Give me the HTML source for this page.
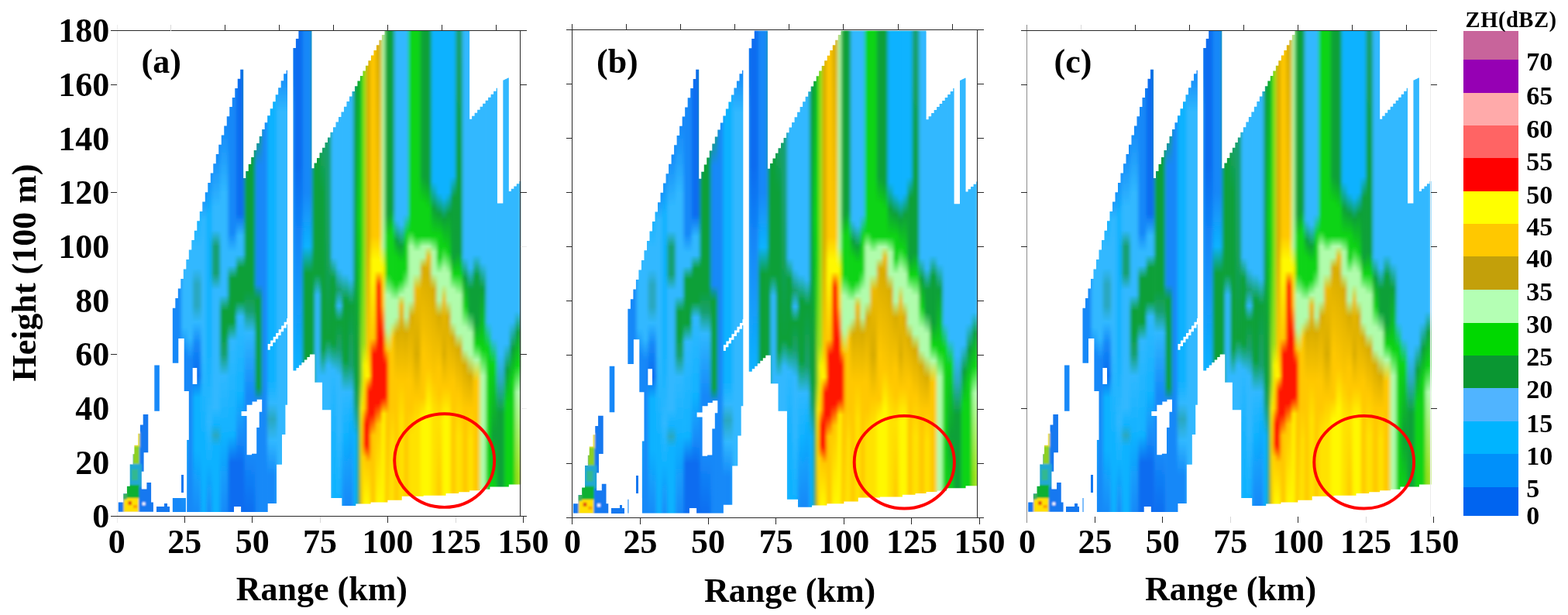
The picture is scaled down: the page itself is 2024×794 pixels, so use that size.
<!DOCTYPE html><html><head><meta charset="utf-8"><title>Radar RHI ZH</title>
<style>html,body{margin:0;padding:0;background:#fff}svg{display:block}text{font-family:"Liberation Serif",serif;font-weight:bold;fill:#000}</style></head><body>
<svg width="2024" height="794" viewBox="0 0 2024 794">
<rect width="100%" height="100%" fill="#fff"/>
<defs><linearGradient id="g0" gradientUnits="userSpaceOnUse" x1="0" y1="39.5" x2="0" y2="666.6"><stop offset="0.6667" stop-color="#1488F8"/><stop offset="1.0000" stop-color="#1488F8"/></linearGradient><linearGradient id="g1" gradientUnits="userSpaceOnUse" x1="0" y1="39.5" x2="0" y2="666.6"><stop offset="0.5000" stop-color="#1488F8"/><stop offset="1.0000" stop-color="#1488F8"/></linearGradient><linearGradient id="g2" gradientUnits="userSpaceOnUse" x1="0" y1="39.5" x2="0" y2="666.6"><stop offset="0.4722" stop-color="#30B8FF"/><stop offset="0.6111" stop-color="#30B8FF"/><stop offset="0.6667" stop-color="#1488F8"/><stop offset="0.7778" stop-color="#1488F8"/><stop offset="0.8333" stop-color="#10B2FF"/><stop offset="1.0000" stop-color="#1488F8"/></linearGradient><linearGradient id="g3" gradientUnits="userSpaceOnUse" x1="0" y1="39.5" x2="0" y2="666.6"><stop offset="0.4167" stop-color="#30B8FF"/><stop offset="0.6333" stop-color="#30B8FF"/><stop offset="0.6778" stop-color="#1488F8"/><stop offset="0.7333" stop-color="#1488F8"/><stop offset="0.7778" stop-color="#1488F8"/><stop offset="1.0000" stop-color="#1488F8"/></linearGradient><linearGradient id="g4" gradientUnits="userSpaceOnUse" x1="0" y1="39.5" x2="0" y2="666.6"><stop offset="0.3611" stop-color="#10B2FF"/><stop offset="0.4444" stop-color="#30B8FF"/><stop offset="0.4889" stop-color="#30B8FF"/><stop offset="0.5222" stop-color="#2AA8C0"/><stop offset="0.5667" stop-color="#2AA8C0"/><stop offset="0.6000" stop-color="#30B8FF"/><stop offset="0.6444" stop-color="#1488F8"/><stop offset="0.7111" stop-color="#0A6CF0"/><stop offset="0.7556" stop-color="#10B2FF"/><stop offset="0.8611" stop-color="#10B2FF"/><stop offset="1.0000" stop-color="#1488F8"/></linearGradient><linearGradient id="g5" gradientUnits="userSpaceOnUse" x1="0" y1="39.5" x2="0" y2="666.6"><stop offset="0.3333" stop-color="#1488F8"/><stop offset="0.3889" stop-color="#30B8FF"/><stop offset="0.6667" stop-color="#30B8FF"/><stop offset="0.8333" stop-color="#10B2FF"/><stop offset="1.0000" stop-color="#10B2FF"/></linearGradient><linearGradient id="g6" gradientUnits="userSpaceOnUse" x1="0" y1="39.5" x2="0" y2="666.6"><stop offset="0.2889" stop-color="#1488F8"/><stop offset="0.3778" stop-color="#10B2FF"/><stop offset="0.6667" stop-color="#10B2FF"/><stop offset="0.8056" stop-color="#30B8FF"/><stop offset="0.8889" stop-color="#10B2FF"/><stop offset="1.0000" stop-color="#1488F8"/></linearGradient><linearGradient id="g7" gradientUnits="userSpaceOnUse" x1="0" y1="39.5" x2="0" y2="666.6"><stop offset="0.2500" stop-color="#1488F8"/><stop offset="0.3611" stop-color="#30B8FF"/><stop offset="0.4111" stop-color="#30B8FF"/><stop offset="0.4444" stop-color="#18A070"/><stop offset="0.5000" stop-color="#18A070"/><stop offset="0.5333" stop-color="#30B8FF"/><stop offset="0.7778" stop-color="#30B8FF"/><stop offset="0.8111" stop-color="#10B2FF"/><stop offset="0.8333" stop-color="#2AA8C0"/><stop offset="0.8556" stop-color="#10B2FF"/><stop offset="1.0000" stop-color="#10B2FF"/></linearGradient><linearGradient id="g8" gradientUnits="userSpaceOnUse" x1="0" y1="39.5" x2="0" y2="666.6"><stop offset="0.1944" stop-color="#1488F8"/><stop offset="0.3333" stop-color="#30B8FF"/><stop offset="0.5444" stop-color="#30B8FF"/><stop offset="0.5778" stop-color="#0CA038"/><stop offset="0.6222" stop-color="#0CA038"/><stop offset="0.6667" stop-color="#18A070"/><stop offset="0.7111" stop-color="#30B8FF"/><stop offset="0.8333" stop-color="#10B2FF"/><stop offset="1.0000" stop-color="#1488F8"/></linearGradient><linearGradient id="g9" gradientUnits="userSpaceOnUse" x1="0" y1="39.5" x2="0" y2="666.6"><stop offset="0.1389" stop-color="#1488F8"/><stop offset="0.3056" stop-color="#1488F8"/><stop offset="0.4167" stop-color="#1488F8"/><stop offset="0.4556" stop-color="#30B8FF"/><stop offset="0.4833" stop-color="#30B8FF"/><stop offset="0.5111" stop-color="#0CA038"/><stop offset="0.6000" stop-color="#0CA038"/><stop offset="0.6389" stop-color="#30B8FF"/><stop offset="0.8333" stop-color="#10B2FF"/><stop offset="0.8889" stop-color="#0A6CF0"/><stop offset="1.0000" stop-color="#0A6CF0"/></linearGradient><linearGradient id="g10" gradientUnits="userSpaceOnUse" x1="0" y1="39.5" x2="0" y2="666.6"><stop offset="0.0778" stop-color="#0A6CF0"/><stop offset="0.3778" stop-color="#0A6CF0"/><stop offset="0.4222" stop-color="#30B8FF"/><stop offset="0.4611" stop-color="#30B8FF"/><stop offset="0.4889" stop-color="#0CA038"/><stop offset="0.5556" stop-color="#0CA038"/><stop offset="0.5889" stop-color="#30B8FF"/><stop offset="0.7500" stop-color="#10B2FF"/><stop offset="0.8444" stop-color="#1488F8"/><stop offset="0.8889" stop-color="#0A6CF0"/><stop offset="1.0000" stop-color="#0A6CF0"/></linearGradient><linearGradient id="g11" gradientUnits="userSpaceOnUse" x1="0" y1="39.5" x2="0" y2="666.6"><stop offset="0.2500" stop-color="#0CA038"/><stop offset="0.5333" stop-color="#0CA038"/><stop offset="0.5778" stop-color="#18A070"/><stop offset="0.6222" stop-color="#30B8FF"/><stop offset="0.7500" stop-color="#1488F8"/><stop offset="0.8778" stop-color="#1488F8"/><stop offset="1.0000" stop-color="#0A6CF0"/></linearGradient><linearGradient id="g12" gradientUnits="userSpaceOnUse" x1="0" y1="39.5" x2="0" y2="666.6"><stop offset="0.2056" stop-color="#18A070"/><stop offset="0.2778" stop-color="#1488F8"/><stop offset="0.5222" stop-color="#1488F8"/><stop offset="0.5556" stop-color="#0CA038"/><stop offset="0.7333" stop-color="#0CA038"/><stop offset="0.7611" stop-color="#1488F8"/><stop offset="1.0000" stop-color="#1488F8"/></linearGradient><linearGradient id="g13" gradientUnits="userSpaceOnUse" x1="0" y1="39.5" x2="0" y2="666.6"><stop offset="0.1833" stop-color="#1488F8"/><stop offset="0.6667" stop-color="#1488F8"/><stop offset="1.0000" stop-color="#1488F8"/></linearGradient><linearGradient id="g14" gradientUnits="userSpaceOnUse" x1="0" y1="39.5" x2="0" y2="666.6"><stop offset="0.1333" stop-color="#10B2FF"/><stop offset="0.7222" stop-color="#10B2FF"/><stop offset="0.7667" stop-color="#30B8FF"/><stop offset="0.8000" stop-color="#2AA8C0"/><stop offset="0.8444" stop-color="#30B8FF"/><stop offset="0.9167" stop-color="#1488F8"/><stop offset="1.0000" stop-color="#1488F8"/></linearGradient><linearGradient id="g15" gradientUnits="userSpaceOnUse" x1="0" y1="39.5" x2="0" y2="666.6"><stop offset="0.0833" stop-color="#1488F8"/><stop offset="0.1667" stop-color="#30B8FF"/><stop offset="0.7778" stop-color="#30B8FF"/><stop offset="1.0000" stop-color="#30B8FF"/></linearGradient><linearGradient id="g16" gradientUnits="userSpaceOnUse" x1="0" y1="39.5" x2="0" y2="666.6"><stop offset="0.0000" stop-color="#0A6CF0"/><stop offset="0.2778" stop-color="#0A6CF0"/><stop offset="0.4444" stop-color="#1488F8"/><stop offset="0.7000" stop-color="#10B2FF"/><stop offset="1.0000" stop-color="#10B2FF"/></linearGradient><linearGradient id="g17" gradientUnits="userSpaceOnUse" x1="0" y1="39.5" x2="0" y2="666.6"><stop offset="0.0000" stop-color="#1488F8"/><stop offset="0.3333" stop-color="#1488F8"/><stop offset="0.4444" stop-color="#10B2FF"/><stop offset="0.5000" stop-color="#0CA038"/><stop offset="0.6778" stop-color="#0CA038"/><stop offset="1.0000" stop-color="#0CA038"/></linearGradient><linearGradient id="g18" gradientUnits="userSpaceOnUse" x1="0" y1="39.5" x2="0" y2="666.6"><stop offset="0.2722" stop-color="#0CA038"/><stop offset="0.6667" stop-color="#0CA038"/><stop offset="1.0000" stop-color="#0CA038"/></linearGradient><linearGradient id="g19" gradientUnits="userSpaceOnUse" x1="0" y1="39.5" x2="0" y2="666.6"><stop offset="0.2556" stop-color="#0CA038"/><stop offset="0.5000" stop-color="#0CA038"/><stop offset="0.5444" stop-color="#30B8FF"/><stop offset="0.7222" stop-color="#30B8FF"/><stop offset="1.0000" stop-color="#30B8FF"/></linearGradient><linearGradient id="g20" gradientUnits="userSpaceOnUse" x1="0" y1="39.5" x2="0" y2="666.6"><stop offset="0.2167" stop-color="#18A070"/><stop offset="0.3333" stop-color="#0CA038"/><stop offset="0.6556" stop-color="#0CA038"/><stop offset="0.7111" stop-color="#30B8FF"/><stop offset="0.7833" stop-color="#30B8FF"/><stop offset="1.0000" stop-color="#30B8FF"/></linearGradient><linearGradient id="g21" gradientUnits="userSpaceOnUse" x1="0" y1="39.5" x2="0" y2="666.6"><stop offset="0.2167" stop-color="#18A070"/><stop offset="0.3333" stop-color="#18A070"/><stop offset="0.6333" stop-color="#0CA038"/><stop offset="0.6889" stop-color="#30B8FF"/><stop offset="0.7833" stop-color="#30B8FF"/><stop offset="1.0000" stop-color="#30B8FF"/></linearGradient><linearGradient id="g22" gradientUnits="userSpaceOnUse" x1="0" y1="39.5" x2="0" y2="666.6"><stop offset="0.1667" stop-color="#30B8FF"/><stop offset="0.4667" stop-color="#30B8FF"/><stop offset="0.5111" stop-color="#0CA038"/><stop offset="0.6444" stop-color="#0CA038"/><stop offset="0.7000" stop-color="#30B8FF"/><stop offset="0.8333" stop-color="#10B2FF"/><stop offset="0.9611" stop-color="#10B2FF"/><stop offset="1.0000" stop-color="#10B2FF"/></linearGradient><linearGradient id="g23" gradientUnits="userSpaceOnUse" x1="0" y1="39.5" x2="0" y2="666.6"><stop offset="0.1667" stop-color="#30B8FF"/><stop offset="0.4889" stop-color="#30B8FF"/><stop offset="0.5333" stop-color="#18A070"/><stop offset="0.5667" stop-color="#30B8FF"/><stop offset="0.6000" stop-color="#0CA038"/><stop offset="0.6556" stop-color="#18A070"/><stop offset="0.7111" stop-color="#30B8FF"/><stop offset="0.8333" stop-color="#30B8FF"/><stop offset="0.9611" stop-color="#10B2FF"/><stop offset="1.0000" stop-color="#10B2FF"/></linearGradient><linearGradient id="g24" gradientUnits="userSpaceOnUse" x1="0" y1="39.5" x2="0" y2="666.6"><stop offset="0.1222" stop-color="#30B8FF"/><stop offset="0.5000" stop-color="#30B8FF"/><stop offset="0.5556" stop-color="#0CA038"/><stop offset="0.6778" stop-color="#0CA038"/><stop offset="0.7444" stop-color="#30B8FF"/><stop offset="0.8333" stop-color="#10B2FF"/><stop offset="0.9778" stop-color="#1488F8"/><stop offset="1.0000" stop-color="#1488F8"/></linearGradient><linearGradient id="g25" gradientUnits="userSpaceOnUse" x1="0" y1="39.5" x2="0" y2="666.6"><stop offset="0.1222" stop-color="#30B8FF"/><stop offset="0.5111" stop-color="#30B8FF"/><stop offset="0.5667" stop-color="#0CA038"/><stop offset="0.6889" stop-color="#18A070"/><stop offset="0.7444" stop-color="#30B8FF"/><stop offset="0.8056" stop-color="#10B2FF"/><stop offset="0.9778" stop-color="#1488F8"/><stop offset="1.0000" stop-color="#1488F8"/></linearGradient><linearGradient id="g26" gradientUnits="userSpaceOnUse" x1="0" y1="39.5" x2="0" y2="666.6"><stop offset="0.1000" stop-color="#0CA038"/><stop offset="0.7222" stop-color="#0CA038"/><stop offset="0.7667" stop-color="#18A070"/><stop offset="0.8333" stop-color="#10B2FF"/><stop offset="0.9778" stop-color="#10B2FF"/><stop offset="1.0000" stop-color="#10B2FF"/></linearGradient><linearGradient id="g27" gradientUnits="userSpaceOnUse" x1="0" y1="39.5" x2="0" y2="666.6"><stop offset="0.0833" stop-color="#0CA038"/><stop offset="0.3889" stop-color="#0CD414"/><stop offset="0.6667" stop-color="#0CA038"/><stop offset="0.9722" stop-color="#0CA038"/><stop offset="1.0000" stop-color="#0CA038"/></linearGradient><linearGradient id="g28" gradientUnits="userSpaceOnUse" x1="0" y1="39.5" x2="0" y2="666.6"><stop offset="0.0667" stop-color="#0CD414"/><stop offset="0.3333" stop-color="#0CD414"/><stop offset="0.4444" stop-color="#0CD414"/><stop offset="0.6667" stop-color="#9AE01A"/><stop offset="0.7222" stop-color="#9AE01A"/><stop offset="0.7778" stop-color="#FFF800"/><stop offset="0.9722" stop-color="#FFC800"/><stop offset="1.0000" stop-color="#FFC800"/></linearGradient><linearGradient id="g29" gradientUnits="userSpaceOnUse" x1="0" y1="39.5" x2="0" y2="666.6"><stop offset="0.0667" stop-color="#9AE01A"/><stop offset="0.3333" stop-color="#9AE01A"/><stop offset="0.4444" stop-color="#9AE01A"/><stop offset="0.6444" stop-color="#9AE01A"/><stop offset="0.6889" stop-color="#FFF800"/><stop offset="0.7778" stop-color="#FFC800"/><stop offset="0.8111" stop-color="#FF1800"/><stop offset="0.8500" stop-color="#FF1800"/><stop offset="0.8778" stop-color="#FFC800"/><stop offset="0.9722" stop-color="#FFF800"/><stop offset="1.0000" stop-color="#FFF800"/></linearGradient><linearGradient id="g30" gradientUnits="userSpaceOnUse" x1="0" y1="39.5" x2="0" y2="666.6"><stop offset="0.0556" stop-color="#D8AC06"/><stop offset="0.4444" stop-color="#D8AC06"/><stop offset="0.6556" stop-color="#FFC800"/><stop offset="0.7111" stop-color="#FFF800"/><stop offset="0.7444" stop-color="#FF1800"/><stop offset="0.8556" stop-color="#FF1800"/><stop offset="0.8889" stop-color="#FFC800"/><stop offset="0.9722" stop-color="#FFF800"/><stop offset="1.0000" stop-color="#FFF800"/></linearGradient><linearGradient id="g31" gradientUnits="userSpaceOnUse" x1="0" y1="39.5" x2="0" y2="666.6"><stop offset="0.0333" stop-color="#FFC800"/><stop offset="0.4222" stop-color="#FFC800"/><stop offset="0.4722" stop-color="#FFF800"/><stop offset="0.5111" stop-color="#FFF800"/><stop offset="0.6333" stop-color="#FFC800"/><stop offset="0.6667" stop-color="#FF1800"/><stop offset="0.7889" stop-color="#FF1800"/><stop offset="0.8333" stop-color="#FFC800"/><stop offset="0.9722" stop-color="#FFC800"/><stop offset="1.0000" stop-color="#FFC800"/></linearGradient><linearGradient id="g32" gradientUnits="userSpaceOnUse" x1="0" y1="39.5" x2="0" y2="666.6"><stop offset="0.0111" stop-color="#D8AC06"/><stop offset="0.4222" stop-color="#FFC800"/><stop offset="0.4722" stop-color="#FFF800"/><stop offset="0.4944" stop-color="#FFF800"/><stop offset="0.5278" stop-color="#FF1800"/><stop offset="0.7667" stop-color="#FF1800"/><stop offset="0.8111" stop-color="#FFC800"/><stop offset="0.9722" stop-color="#FFF800"/><stop offset="1.0000" stop-color="#FFF800"/></linearGradient><linearGradient id="g33" gradientUnits="userSpaceOnUse" x1="0" y1="39.5" x2="0" y2="666.6"><stop offset="0.0000" stop-color="#B0FCAC"/><stop offset="0.4444" stop-color="#B0FCAC"/><stop offset="0.4889" stop-color="#FFF800"/><stop offset="0.5667" stop-color="#FFC800"/><stop offset="0.6333" stop-color="#FF1800"/><stop offset="0.7556" stop-color="#FF1800"/><stop offset="0.7889" stop-color="#FFF800"/><stop offset="0.9722" stop-color="#FFF800"/><stop offset="1.0000" stop-color="#FFF800"/></linearGradient><linearGradient id="g34" gradientUnits="userSpaceOnUse" x1="0" y1="39.5" x2="0" y2="666.6"><stop offset="0.0000" stop-color="#0CA038"/><stop offset="0.3778" stop-color="#0CA038"/><stop offset="0.4222" stop-color="#0CD414"/><stop offset="0.5000" stop-color="#0CD414"/><stop offset="0.5444" stop-color="#B0FCAC"/><stop offset="0.6111" stop-color="#B0FCAC"/><stop offset="0.6556" stop-color="#FFC800"/><stop offset="0.6889" stop-color="#FF1800"/><stop offset="0.7500" stop-color="#FF1800"/><stop offset="0.7889" stop-color="#FFC800"/><stop offset="0.9722" stop-color="#FFC800"/><stop offset="1.0000" stop-color="#FFC800"/></linearGradient><linearGradient id="g35" gradientUnits="userSpaceOnUse" x1="0" y1="39.5" x2="0" y2="666.6"><stop offset="0.0000" stop-color="#0CA038"/><stop offset="0.3778" stop-color="#0CA038"/><stop offset="0.4222" stop-color="#0CD414"/><stop offset="0.5000" stop-color="#0CD414"/><stop offset="0.5444" stop-color="#B0FCAC"/><stop offset="0.6222" stop-color="#B0FCAC"/><stop offset="0.6667" stop-color="#FFC800"/><stop offset="0.8333" stop-color="#FFC800"/><stop offset="0.9722" stop-color="#FFE200"/><stop offset="1.0000" stop-color="#FFE200"/></linearGradient><linearGradient id="g36" gradientUnits="userSpaceOnUse" x1="0" y1="39.5" x2="0" y2="666.6"><stop offset="0.0000" stop-color="#0CA038"/><stop offset="0.3667" stop-color="#0CA038"/><stop offset="0.4111" stop-color="#0CD414"/><stop offset="0.5111" stop-color="#0CD414"/><stop offset="0.5556" stop-color="#B0FCAC"/><stop offset="0.6000" stop-color="#B0FCAC"/><stop offset="0.6333" stop-color="#FFC800"/><stop offset="0.7778" stop-color="#FFC800"/><stop offset="0.8444" stop-color="#FFE200"/><stop offset="0.9722" stop-color="#FFE200"/><stop offset="1.0000" stop-color="#FFE200"/></linearGradient><linearGradient id="g37" gradientUnits="userSpaceOnUse" x1="0" y1="39.5" x2="0" y2="666.6"><stop offset="0.0000" stop-color="#30B8FF"/><stop offset="0.3889" stop-color="#30B8FF"/><stop offset="0.4333" stop-color="#0CA038"/><stop offset="0.4667" stop-color="#0CD414"/><stop offset="0.5222" stop-color="#0CD414"/><stop offset="0.5556" stop-color="#B0FCAC"/><stop offset="0.5889" stop-color="#B0FCAC"/><stop offset="0.6222" stop-color="#D8AC06"/><stop offset="0.7222" stop-color="#FFC800"/><stop offset="0.8333" stop-color="#FFC800"/><stop offset="0.9722" stop-color="#FFC800"/><stop offset="1.0000" stop-color="#FFC800"/></linearGradient><linearGradient id="g38" gradientUnits="userSpaceOnUse" x1="0" y1="39.5" x2="0" y2="666.6"><stop offset="0.0000" stop-color="#30B8FF"/><stop offset="0.4000" stop-color="#30B8FF"/><stop offset="0.4444" stop-color="#0CA038"/><stop offset="0.4778" stop-color="#0CD414"/><stop offset="0.5111" stop-color="#0CD414"/><stop offset="0.5444" stop-color="#B0FCAC"/><stop offset="0.5667" stop-color="#ECBA04"/><stop offset="0.6111" stop-color="#D8AC06"/><stop offset="0.7222" stop-color="#FFC800"/><stop offset="0.8000" stop-color="#FFE200"/><stop offset="0.9722" stop-color="#FFE200"/><stop offset="1.0000" stop-color="#FFE200"/></linearGradient><linearGradient id="g39" gradientUnits="userSpaceOnUse" x1="0" y1="39.5" x2="0" y2="666.6"><stop offset="0.0000" stop-color="#30B8FF"/><stop offset="0.3778" stop-color="#30B8FF"/><stop offset="0.4222" stop-color="#0CD414"/><stop offset="0.4889" stop-color="#0CD414"/><stop offset="0.5333" stop-color="#B0FCAC"/><stop offset="0.5889" stop-color="#B0FCAC"/><stop offset="0.6222" stop-color="#D8AC06"/><stop offset="0.7222" stop-color="#FFC800"/><stop offset="0.8000" stop-color="#FFC800"/><stop offset="0.9722" stop-color="#FFC800"/><stop offset="1.0000" stop-color="#FFC800"/></linearGradient><linearGradient id="g40" gradientUnits="userSpaceOnUse" x1="0" y1="39.5" x2="0" y2="666.6"><stop offset="0.0000" stop-color="#0CD414"/><stop offset="0.4111" stop-color="#0CD414"/><stop offset="0.4444" stop-color="#B0FCAC"/><stop offset="0.5111" stop-color="#B0FCAC"/><stop offset="0.5556" stop-color="#B0FCAC"/><stop offset="0.5889" stop-color="#D8AC06"/><stop offset="0.7222" stop-color="#FFC800"/><stop offset="0.7778" stop-color="#FFC800"/><stop offset="0.8333" stop-color="#FFE200"/><stop offset="0.9722" stop-color="#FFE200"/><stop offset="1.0000" stop-color="#FFE200"/></linearGradient><linearGradient id="g41" gradientUnits="userSpaceOnUse" x1="0" y1="39.5" x2="0" y2="666.6"><stop offset="0.0000" stop-color="#0CD414"/><stop offset="0.4222" stop-color="#0CD414"/><stop offset="0.4556" stop-color="#B0FCAC"/><stop offset="0.5000" stop-color="#B0FCAC"/><stop offset="0.5333" stop-color="#ECBA04"/><stop offset="0.6667" stop-color="#D8AC06"/><stop offset="0.7556" stop-color="#FFC800"/><stop offset="0.8111" stop-color="#FFE200"/><stop offset="0.9722" stop-color="#FFE200"/><stop offset="1.0000" stop-color="#FFE200"/></linearGradient><linearGradient id="g42" gradientUnits="userSpaceOnUse" x1="0" y1="39.5" x2="0" y2="666.6"><stop offset="0.0000" stop-color="#0CA038"/><stop offset="0.3000" stop-color="#0CA038"/><stop offset="0.3556" stop-color="#0CD414"/><stop offset="0.4222" stop-color="#0CD414"/><stop offset="0.4444" stop-color="#B0FCAC"/><stop offset="0.4667" stop-color="#B0FCAC"/><stop offset="0.4889" stop-color="#D8AC06"/><stop offset="0.6667" stop-color="#FFC800"/><stop offset="0.7556" stop-color="#FFC800"/><stop offset="0.8000" stop-color="#FFF800"/><stop offset="0.9722" stop-color="#FFF800"/><stop offset="1.0000" stop-color="#FFF800"/></linearGradient><linearGradient id="g43" gradientUnits="userSpaceOnUse" x1="0" y1="39.5" x2="0" y2="666.6"><stop offset="0.0000" stop-color="#0CA038"/><stop offset="0.3111" stop-color="#0CA038"/><stop offset="0.3667" stop-color="#0CD414"/><stop offset="0.4222" stop-color="#0CD414"/><stop offset="0.4444" stop-color="#B0FCAC"/><stop offset="0.4667" stop-color="#ECBA04"/><stop offset="0.5000" stop-color="#D8AC06"/><stop offset="0.6944" stop-color="#FFC800"/><stop offset="0.7778" stop-color="#FFF800"/><stop offset="0.9722" stop-color="#FFF800"/><stop offset="1.0000" stop-color="#FFF800"/></linearGradient><linearGradient id="g44" gradientUnits="userSpaceOnUse" x1="0" y1="39.5" x2="0" y2="666.6"><stop offset="0.0000" stop-color="#10B2FF"/><stop offset="0.3111" stop-color="#10B2FF"/><stop offset="0.3667" stop-color="#0CA038"/><stop offset="0.4222" stop-color="#0CD414"/><stop offset="0.4556" stop-color="#B0FCAC"/><stop offset="0.5000" stop-color="#B0FCAC"/><stop offset="0.5333" stop-color="#D8AC06"/><stop offset="0.7222" stop-color="#FFC800"/><stop offset="0.7889" stop-color="#FFE200"/><stop offset="0.9722" stop-color="#FFE200"/><stop offset="1.0000" stop-color="#FFE200"/></linearGradient><linearGradient id="g45" gradientUnits="userSpaceOnUse" x1="0" y1="39.5" x2="0" y2="666.6"><stop offset="0.0000" stop-color="#10B2FF"/><stop offset="0.3333" stop-color="#10B2FF"/><stop offset="0.3778" stop-color="#0CA038"/><stop offset="0.4222" stop-color="#0CD414"/><stop offset="0.4667" stop-color="#0CD414"/><stop offset="0.5000" stop-color="#B0FCAC"/><stop offset="0.5556" stop-color="#B0FCAC"/><stop offset="0.5889" stop-color="#D8AC06"/><stop offset="0.6944" stop-color="#FFC800"/><stop offset="0.7500" stop-color="#FFC800"/><stop offset="0.8056" stop-color="#FFE200"/><stop offset="0.9722" stop-color="#FFC800"/><stop offset="1.0000" stop-color="#FFC800"/></linearGradient><linearGradient id="g46" gradientUnits="userSpaceOnUse" x1="0" y1="39.5" x2="0" y2="666.6"><stop offset="0.0000" stop-color="#10B2FF"/><stop offset="0.3444" stop-color="#10B2FF"/><stop offset="0.3889" stop-color="#0CA038"/><stop offset="0.4444" stop-color="#0CD414"/><stop offset="0.4889" stop-color="#B0FCAC"/><stop offset="0.5222" stop-color="#B0FCAC"/><stop offset="0.5556" stop-color="#ECBA04"/><stop offset="0.6667" stop-color="#D8AC06"/><stop offset="0.7333" stop-color="#FFC800"/><stop offset="0.8000" stop-color="#FFF800"/><stop offset="0.9722" stop-color="#FFF800"/><stop offset="1.0000" stop-color="#FFF800"/></linearGradient><linearGradient id="g47" gradientUnits="userSpaceOnUse" x1="0" y1="39.5" x2="0" y2="666.6"><stop offset="0.0000" stop-color="#10B2FF"/><stop offset="0.3333" stop-color="#10B2FF"/><stop offset="0.3778" stop-color="#0CA038"/><stop offset="0.4556" stop-color="#0CD414"/><stop offset="0.5000" stop-color="#B0FCAC"/><stop offset="0.5556" stop-color="#B0FCAC"/><stop offset="0.5889" stop-color="#D8AC06"/><stop offset="0.7333" stop-color="#FFC800"/><stop offset="0.8000" stop-color="#FFF800"/><stop offset="0.9556" stop-color="#FFF800"/><stop offset="1.0000" stop-color="#FFC800"/></linearGradient><linearGradient id="g48" gradientUnits="userSpaceOnUse" x1="0" y1="39.5" x2="0" y2="666.6"><stop offset="0.0000" stop-color="#10B2FF"/><stop offset="0.3000" stop-color="#10B2FF"/><stop offset="0.3444" stop-color="#0CA038"/><stop offset="0.4667" stop-color="#0CA038"/><stop offset="0.5000" stop-color="#0CD414"/><stop offset="0.5333" stop-color="#B0FCAC"/><stop offset="0.6000" stop-color="#B0FCAC"/><stop offset="0.6333" stop-color="#D8AC06"/><stop offset="0.7222" stop-color="#FFC800"/><stop offset="0.8333" stop-color="#FFC800"/><stop offset="0.9722" stop-color="#FFC800"/><stop offset="1.0000" stop-color="#FFC800"/></linearGradient><linearGradient id="g49" gradientUnits="userSpaceOnUse" x1="0" y1="39.5" x2="0" y2="666.6"><stop offset="0.0000" stop-color="#18A070"/><stop offset="0.2778" stop-color="#0CA038"/><stop offset="0.4556" stop-color="#0CA038"/><stop offset="0.5000" stop-color="#0CD414"/><stop offset="0.5444" stop-color="#B0FCAC"/><stop offset="0.6222" stop-color="#B0FCAC"/><stop offset="0.6556" stop-color="#D8AC06"/><stop offset="0.7500" stop-color="#FFC800"/><stop offset="0.8333" stop-color="#FFE200"/><stop offset="0.9722" stop-color="#FFE200"/><stop offset="1.0000" stop-color="#FFE200"/></linearGradient><linearGradient id="g50" gradientUnits="userSpaceOnUse" x1="0" y1="39.5" x2="0" y2="666.6"><stop offset="0.0000" stop-color="#30B8FF"/><stop offset="0.4667" stop-color="#30B8FF"/><stop offset="0.5111" stop-color="#0CA038"/><stop offset="0.5667" stop-color="#0CD414"/><stop offset="0.6111" stop-color="#B0FCAC"/><stop offset="0.6556" stop-color="#B0FCAC"/><stop offset="0.6889" stop-color="#D8AC06"/><stop offset="0.7778" stop-color="#FFC800"/><stop offset="0.9722" stop-color="#FFC800"/><stop offset="1.0000" stop-color="#FFC800"/></linearGradient><linearGradient id="g51" gradientUnits="userSpaceOnUse" x1="0" y1="39.5" x2="0" y2="666.6"><stop offset="0.0000" stop-color="#30B8FF"/><stop offset="0.4889" stop-color="#30B8FF"/><stop offset="0.5333" stop-color="#0CA038"/><stop offset="0.5778" stop-color="#0CA038"/><stop offset="0.6222" stop-color="#B0FCAC"/><stop offset="0.6667" stop-color="#B0FCAC"/><stop offset="0.7111" stop-color="#D8AC06"/><stop offset="0.7778" stop-color="#FFC800"/><stop offset="0.8444" stop-color="#FFE200"/><stop offset="0.9722" stop-color="#FFE200"/><stop offset="1.0000" stop-color="#FFE200"/></linearGradient><linearGradient id="g52" gradientUnits="userSpaceOnUse" x1="0" y1="39.5" x2="0" y2="666.6"><stop offset="0.1667" stop-color="#30B8FF"/><stop offset="0.4611" stop-color="#30B8FF"/><stop offset="0.5056" stop-color="#0CA038"/><stop offset="0.6000" stop-color="#0CA038"/><stop offset="0.6444" stop-color="#0CD414"/><stop offset="0.6778" stop-color="#B0FCAC"/><stop offset="0.7222" stop-color="#FFC800"/><stop offset="0.9722" stop-color="#FFC800"/><stop offset="1.0000" stop-color="#FFC800"/></linearGradient><linearGradient id="g53" gradientUnits="userSpaceOnUse" x1="0" y1="39.5" x2="0" y2="666.6"><stop offset="0.1389" stop-color="#30B8FF"/><stop offset="0.4778" stop-color="#30B8FF"/><stop offset="0.5333" stop-color="#0CA038"/><stop offset="0.6556" stop-color="#0CD414"/><stop offset="0.7111" stop-color="#B0FCAC"/><stop offset="0.9444" stop-color="#B0FCAC"/><stop offset="1.0000" stop-color="#B0FCAC"/></linearGradient><linearGradient id="g54" gradientUnits="userSpaceOnUse" x1="0" y1="39.5" x2="0" y2="666.6"><stop offset="0.1222" stop-color="#30B8FF"/><stop offset="0.6000" stop-color="#30B8FF"/><stop offset="0.6556" stop-color="#0CD414"/><stop offset="0.7778" stop-color="#0CD414"/><stop offset="0.9444" stop-color="#0CD414"/><stop offset="1.0000" stop-color="#0CD414"/></linearGradient><linearGradient id="g55" gradientUnits="userSpaceOnUse" x1="0" y1="39.5" x2="0" y2="666.6"><stop offset="0.1222" stop-color="#30B8FF"/><stop offset="0.6333" stop-color="#30B8FF"/><stop offset="0.6889" stop-color="#0CD414"/><stop offset="0.8333" stop-color="#0CA038"/><stop offset="0.9444" stop-color="#0CD414"/><stop offset="1.0000" stop-color="#0CD414"/></linearGradient><linearGradient id="g56" gradientUnits="userSpaceOnUse" x1="0" y1="39.5" x2="0" y2="666.6"><stop offset="0.1000" stop-color="#30B8FF"/><stop offset="0.6667" stop-color="#30B8FF"/><stop offset="0.7222" stop-color="#2AA8C0"/><stop offset="0.7889" stop-color="#0CA038"/><stop offset="0.9444" stop-color="#0CA038"/><stop offset="1.0000" stop-color="#0CA038"/></linearGradient><linearGradient id="g57" gradientUnits="userSpaceOnUse" x1="0" y1="39.5" x2="0" y2="666.6"><stop offset="0.1000" stop-color="#30B8FF"/><stop offset="0.6444" stop-color="#30B8FF"/><stop offset="0.7000" stop-color="#0CA038"/><stop offset="0.7667" stop-color="#0CD414"/><stop offset="0.9444" stop-color="#0CD414"/><stop offset="1.0000" stop-color="#0CD414"/></linearGradient><linearGradient id="g58" gradientUnits="userSpaceOnUse" x1="0" y1="39.5" x2="0" y2="666.6"><stop offset="0.1000" stop-color="#30B8FF"/><stop offset="0.6000" stop-color="#30B8FF"/><stop offset="0.6556" stop-color="#0CA038"/><stop offset="0.7222" stop-color="#0CD414"/><stop offset="0.9444" stop-color="#0CD414"/><stop offset="1.0000" stop-color="#0CD414"/></linearGradient><linearGradient id="g59" gradientUnits="userSpaceOnUse" x1="0" y1="39.5" x2="0" y2="666.6"><stop offset="0.3056" stop-color="#30B8FF"/><stop offset="0.5778" stop-color="#30B8FF"/><stop offset="0.6222" stop-color="#0CA038"/><stop offset="0.6889" stop-color="#0CD414"/><stop offset="0.7444" stop-color="#B0FCAC"/><stop offset="0.9167" stop-color="#9AE01A"/><stop offset="1.0000" stop-color="#9AE01A"/></linearGradient><filter id="bl" x="-2%" y="-2%" width="104%" height="104%"><feGaussianBlur stdDeviation="2 0.4"/></filter><filter id="bl2" x="-5%" y="-5%" width="110%" height="110%"><feGaussianBlur stdDeviation="1.1"/></filter><clipPath id="mk"><path d="M47.82 471.5H54.44V530.7H47.82zM71.42 397.7H75.41V468.7H71.42zM71.42 642.9H75.41V661.0H71.42zM74.91 385.1H78.91V468.7H74.91zM74.91 642.9H78.91V661.0H74.91zM78.41 372.5H82.41V437.0H78.41zM78.41 642.9H82.41V661.0H78.41zM81.91 360.0H85.90V437.0H81.91zM81.91 642.9H85.90V661.0H81.91zM85.40 347.5H86.78V437.0H85.40zM85.40 642.9H86.78V661.0H85.40zM86.28 347.5H88.52V504.9H86.28zM86.28 642.9H88.52V661.0H86.28zM88.02 347.5H89.40V504.9H88.02zM88.90 335.0H90.27V504.9H88.90zM89.77 335.0H92.89V504.9H89.77zM89.77 568.0H92.89V661.0H89.77zM92.39 322.5H96.39V661.0H92.39zM95.89 310.1H97.26V661.0H95.89zM96.76 495.9H99.89V661.0H96.76zM96.76 310.1H99.89V475.0H96.76zM99.39 495.9H103.38V661.0H99.39zM99.39 297.7H103.38V475.0H99.39zM102.88 285.3H106.88V661.0H102.88zM106.38 272.9H110.37V661.0H106.38zM109.87 260.5H113.87V661.0H109.87zM113.37 248.2H117.37V661.0H113.37zM116.87 235.9H120.86V661.0H116.87zM120.36 223.6H124.36V661.0H120.36zM123.86 211.3H127.85V661.0H123.86zM127.35 199.0H131.35V661.0H127.35zM130.85 186.8H134.85V661.0H130.85zM134.35 174.6H138.34V661.0H134.35zM137.84 162.4H141.84V661.0H137.84zM141.34 150.2H145.33V661.0H141.34zM144.83 138.1H148.83V661.0H144.83zM148.33 126.0H150.58V661.0H148.33zM150.08 126.0H152.33V654.1H150.08zM151.83 113.9H155.82V654.1H151.83zM155.32 101.8H159.32V654.1H155.32zM158.82 89.7H160.19V654.1H158.82zM159.69 537.0H162.81V661.0H159.69zM159.69 89.7H162.81V531.1H159.69zM162.31 537.0H166.31V661.0H162.31zM162.31 230.1H166.31V531.1H162.31zM165.81 537.0H167.18V661.0H165.81zM165.81 221.1H167.18V531.1H165.81zM166.68 587.2H169.81V661.0H166.68zM166.68 221.1H169.81V522.7H166.68zM169.31 587.2H173.30V661.0H169.31zM169.31 212.1H173.30V522.7H169.31zM172.80 587.2H174.18V661.0H172.80zM172.80 203.1H174.18V522.7H172.80zM173.68 585.8H176.80V661.0H173.68zM173.68 203.1H176.80V518.5H173.68zM176.30 585.8H180.29V661.0H176.30zM176.30 194.1H180.29V518.5H176.30zM179.79 552.0H183.79V661.0H179.79zM179.79 185.1H183.79V515.7H179.79zM183.29 531.8H187.29V661.0H183.29zM183.29 176.1H187.29V515.7H183.29zM186.79 167.1H190.78V661.0H186.79zM190.28 158.2H194.28V661.0H190.28zM193.78 451.7H197.77V649.9H193.78zM193.78 149.2H197.77V444.1H193.78zM197.27 447.0H201.27V649.9H197.27zM197.27 140.2H201.27V439.4H197.27zM200.77 442.3H204.77V649.9H200.77zM200.77 131.2H204.77V434.7H200.77zM204.27 437.6H205.64V649.9H204.27zM204.27 122.2H205.64V430.0H204.27zM205.14 437.6H208.26V599.7H205.14zM205.14 122.2H208.26V430.0H205.14zM207.76 432.9H211.76V599.7H207.76zM207.76 113.2H211.76V425.3H207.76zM211.26 428.2H212.63V599.7H211.26zM211.26 104.2H212.63V420.6H211.26zM212.13 428.2H215.25V561.0H212.13zM212.13 104.2H215.25V420.6H212.13zM214.75 423.5H217.00V561.0H214.75zM214.75 95.2H217.00V415.8H214.75zM216.50 423.5H218.75V522.7H216.50zM216.50 95.2H218.75V415.8H216.50zM218.25 418.8H219.62V522.7H218.25zM218.25 90.7H219.62V411.1H218.25zM226.99 62.1H230.99V478.5H226.99zM230.49 50.0H234.48V475.0H230.49zM233.98 39.5H237.98V471.5H233.98zM237.48 39.5H241.47V468.0H237.48zM240.97 39.5H244.97V464.5H240.97zM244.47 39.5H248.47V461.1H244.47zM247.97 39.5H251.09V457.6H247.97zM250.59 217.2H254.58V457.6H250.59zM254.08 210.6H255.46V457.6H254.08zM254.96 210.6H258.08V493.8H254.96zM257.58 203.9H261.58V493.8H257.58zM261.08 197.3H265.07V493.8H261.08zM264.57 190.7H268.57V529.3H264.57zM268.07 184.1H272.06V529.3H268.07zM271.56 177.5H275.56V529.3H271.56zM275.06 170.8H276.43V529.3H275.06zM275.93 170.8H279.06V642.9H275.93zM278.56 164.2H282.55V642.9H278.56zM282.05 157.6H286.05V642.9H282.05zM285.55 151.0H289.54V642.9H285.55zM289.04 144.4H290.42V642.9H289.04zM289.92 144.4H293.04V653.0H289.92zM292.54 137.7H296.54V653.0H292.54zM296.04 131.1H300.03V653.0H296.04zM299.53 124.5H303.53V653.0H299.53zM303.03 117.9H307.02V653.0H303.03zM306.52 111.3H307.90V653.0H306.52zM307.40 111.3H310.52V650.6H307.40zM310.02 104.6H314.02V650.6H310.02zM313.52 98.0H317.51V650.6H313.52zM317.01 91.4H321.01V650.6H317.01zM320.51 84.8H324.50V650.6H320.51zM324.00 78.2H327.13V650.6H324.00zM326.63 78.2H328.00V648.5H326.63zM327.50 71.6H331.50V648.5H327.50zM331.00 64.9H334.99V648.5H331.00zM334.49 58.3H338.49V648.5H334.49zM337.99 51.7H341.98V648.5H337.99zM341.48 45.1H345.48V648.5H341.48zM344.98 39.5H348.98V648.5H344.98zM348.48 39.5H367.33V645.7H348.48zM366.83 39.5H395.30V640.8H366.83zM394.80 39.5H424.14V639.8H394.80zM423.64 39.5H440.75V637.0H423.64zM440.25 39.5H454.73V635.2H440.25zM454.23 153.8H458.23V633.2H454.23zM457.73 149.8H461.72V633.2H457.73zM461.22 145.8H465.22V633.2H461.22zM464.72 141.8H468.71V633.2H464.72zM468.21 137.7H472.21V631.8H468.21zM471.71 133.7H475.71V631.8H471.71zM475.21 129.7H479.20V631.8H475.21zM478.70 125.7H480.95V631.8H478.70zM480.45 125.7H482.70V628.6H480.45zM482.20 121.7H486.19V628.6H482.20zM485.69 117.7H489.69V628.6H485.69zM489.19 113.7H490.56V628.6H489.19zM490.06 262.5H498.43V628.6H490.06zM497.93 103.6H499.30V628.6H497.93zM498.80 103.2H500.18V628.6H498.80zM499.68 102.8H501.05V628.6H499.68zM500.55 102.3H501.93V628.6H500.55zM501.43 101.9H502.80V628.6H501.43zM502.30 101.5H503.67V628.6H502.30zM503.17 101.0H504.55V628.6H503.17zM504.05 100.6H505.42V628.6H504.05zM504.92 246.9H508.92V625.5H504.92zM508.42 243.7H512.41V625.5H508.42zM511.91 240.4H515.91V625.5H511.91zM515.41 237.2H519.41V625.5H515.41zM518.91 234.0H521.15V625.5H518.91z"/></clipPath><g id="panel"><g clip-path="url(#mk)"><g filter="url(#bl)"><rect x="45.15" y="39.5" width="11.09" height="627.1" fill="url(#g0)"/><rect x="55.64" y="39.5" width="27.52" height="627.1" fill="url(#g1)"/><rect x="82.56" y="39.5" width="8.64" height="627.1" fill="url(#g2)"/><rect x="90.60" y="39.5" width="7.59" height="627.1" fill="url(#g3)"/><rect x="97.59" y="39.5" width="11.09" height="627.1" fill="url(#g4)"/><rect x="108.08" y="39.5" width="7.59" height="627.1" fill="url(#g5)"/><rect x="115.07" y="39.5" width="7.59" height="627.1" fill="url(#g6)"/><rect x="122.06" y="39.5" width="11.09" height="627.1" fill="url(#g7)"/><rect x="132.55" y="39.5" width="11.09" height="627.1" fill="url(#g8)"/><rect x="143.04" y="39.5" width="11.09" height="627.1" fill="url(#g9)"/><rect x="153.52" y="39.5" width="11.09" height="627.1" fill="url(#g10)"/><rect x="164.01" y="39.5" width="14.58" height="627.1" fill="url(#g11)"/><rect x="178.00" y="39.5" width="9.34" height="627.1" fill="url(#g12)"/><rect x="186.74" y="39.5" width="7.59" height="627.1" fill="url(#g13)"/><rect x="193.73" y="39.5" width="12.84" height="627.1" fill="url(#g14)"/><rect x="205.96" y="39.5" width="21.23" height="627.1" fill="url(#g15)"/><rect x="226.59" y="39.5" width="13.19" height="627.1" fill="url(#g16)"/><rect x="239.18" y="39.5" width="12.84" height="627.1" fill="url(#g17)"/><rect x="251.41" y="39.5" width="4.10" height="627.1" fill="url(#g18)"/><rect x="254.91" y="39.5" width="7.59" height="627.1" fill="url(#g19)"/><rect x="261.90" y="39.5" width="7.59" height="627.1" fill="url(#g20)"/><rect x="268.89" y="39.5" width="7.59" height="627.1" fill="url(#g21)"/><rect x="275.88" y="39.5" width="7.59" height="627.1" fill="url(#g22)"/><rect x="282.88" y="39.5" width="7.59" height="627.1" fill="url(#g23)"/><rect x="289.87" y="39.5" width="9.34" height="627.1" fill="url(#g24)"/><rect x="298.61" y="39.5" width="6.89" height="627.1" fill="url(#g25)"/><rect x="304.90" y="39.5" width="5.49" height="627.1" fill="url(#g26)"/><rect x="309.80" y="39.5" width="4.45" height="627.1" fill="url(#g27)"/><rect x="313.64" y="39.5" width="4.10" height="627.1" fill="url(#g28)"/><rect x="317.14" y="39.5" width="4.80" height="627.1" fill="url(#g29)"/><rect x="321.33" y="39.5" width="5.84" height="627.1" fill="url(#g30)"/><rect x="326.58" y="39.5" width="7.59" height="627.1" fill="url(#g31)"/><rect x="333.57" y="39.5" width="8.29" height="627.1" fill="url(#g32)"/><rect x="341.26" y="39.5" width="4.80" height="627.1" fill="url(#g33)"/><rect x="345.45" y="39.5" width="4.80" height="627.1" fill="url(#g34)"/><rect x="349.65" y="39.5" width="3.75" height="627.1" fill="url(#g35)"/><rect x="352.80" y="39.5" width="5.49" height="627.1" fill="url(#g36)"/><rect x="357.69" y="39.5" width="6.19" height="627.1" fill="url(#g37)"/><rect x="363.28" y="39.5" width="7.59" height="627.1" fill="url(#g38)"/><rect x="370.28" y="39.5" width="6.19" height="627.1" fill="url(#g39)"/><rect x="375.87" y="39.5" width="7.24" height="627.1" fill="url(#g40)"/><rect x="382.51" y="39.5" width="9.34" height="627.1" fill="url(#g41)"/><rect x="391.25" y="39.5" width="7.59" height="627.1" fill="url(#g42)"/><rect x="398.24" y="39.5" width="7.59" height="627.1" fill="url(#g43)"/><rect x="405.24" y="39.5" width="7.59" height="627.1" fill="url(#g44)"/><rect x="412.23" y="39.5" width="7.59" height="627.1" fill="url(#g45)"/><rect x="419.22" y="39.5" width="5.84" height="627.1" fill="url(#g46)"/><rect x="424.46" y="39.5" width="6.54" height="627.1" fill="url(#g47)"/><rect x="430.41" y="39.5" width="6.89" height="627.1" fill="url(#g48)"/><rect x="436.70" y="39.5" width="9.34" height="627.1" fill="url(#g49)"/><rect x="445.44" y="39.5" width="7.59" height="627.1" fill="url(#g50)"/><rect x="452.43" y="39.5" width="7.59" height="627.1" fill="url(#g51)"/><rect x="459.42" y="39.5" width="9.34" height="627.1" fill="url(#g52)"/><rect x="468.16" y="39.5" width="8.29" height="627.1" fill="url(#g53)"/><rect x="475.86" y="39.5" width="6.89" height="627.1" fill="url(#g54)"/><rect x="482.15" y="39.5" width="8.29" height="627.1" fill="url(#g55)"/><rect x="489.84" y="39.5" width="10.39" height="627.1" fill="url(#g56)"/><rect x="499.63" y="39.5" width="7.59" height="627.1" fill="url(#g57)"/><rect x="506.62" y="39.5" width="7.59" height="627.1" fill="url(#g58)"/><rect x="513.61" y="39.5" width="8.29" height="627.1" fill="url(#g59)"/></g></g><clipPath id="ck"><path d="M1.2 660.8L1.2 648.5L7.8 648.5L7.8 637.2L12.5 637.2L12.5 627.8L16.3 627.8L16.3 599.4L20.1 599.4L20.1 586.2L22.0 586.2L22.0 574.8L26.7 574.8L26.7 559.7L29.5 559.7L29.5 548.4L33.3 548.4L33.3 535.1L39.9 535.1L39.9 584.3L34.2 584.3L34.2 608.8L31.4 608.8L31.4 631.5L38.0 631.5L38.0 623.0L43.7 623.0L43.7 648.5L46.5 648.5L46.5 660.8Z"/></clipPath><g clip-path="url(#ck)"><g filter="url(#bl2)"><rect x="-1.4" y="530.0" width="52.0" height="135.0" fill="#1478F0"/><rect x="19.6" y="558.0" width="9.5" height="20.0" fill="#F4E640"/><rect x="19.6" y="576.0" width="9.0" height="26.0" fill="#8CD020"/><rect x="14.6" y="599.0" width="17.0" height="30.0" fill="#20A8D0"/><rect x="18.6" y="606.0" width="8.0" height="14.0" fill="#30B890"/><rect x="10.6" y="626.0" width="17.5" height="18.0" fill="#10B030"/><rect x="8.1" y="643.0" width="19.5" height="19.0" fill="#FFE000"/><rect x="6.6" y="637.0" width="6.0" height="8.0" fill="#40B060"/><rect x="14.1" y="647.0" width="4.5" height="5.0" fill="#E05010"/><rect x="20.6" y="652.0" width="5.0" height="4.0" fill="#FFA000"/><rect x="32.4" y="648.5" width="3.7" height="3.8" fill="#FFFFFF"/></g></g><g shape-rendering="crispEdges"><rect x="50.3" y="654.2" width="17.0" height="6.6" fill="#1478F0"/><rect x="60.7" y="650.4" width="3.8" height="4.0" fill="#1478F0"/><rect x="82.4" y="612.6" width="3.0" height="23.0" fill="#1478F0"/></g></g></defs>
<g transform="translate(151.4,0)"><use href="#panel"/></g>
<g transform="translate(738.6,39.5) scale(1.005,1.003) translate(0,-39.5)"><use href="#panel"/><rect x="72.5" y="641" width="16.8" height="21" fill="#fff"/></g>
<g transform="translate(1326,0) scale(1.001,1)"><use href="#panel"/><rect x="72.5" y="641" width="16.8" height="21" fill="#fff"/></g>
<g shape-rendering="crispEdges"><path d="M151.5 32.0L151.5 674.9" stroke="#ececec" stroke-width="1" fill="none"/><path d="M671.5 39.5L671.5 666.6" stroke="#2a2a2a" stroke-width="1" fill="none"/><path d="M143.0 39.5L680.0 39.5" stroke="#2a2a2a" stroke-width="1" fill="none"/><path d="M143.0 666.5L680.0 666.5" stroke="#2a2a2a" stroke-width="1" fill="none"/><path d="M220.5 31.7L220.5 39.5" stroke="#d8d8d8" stroke-width="1" fill="none"/><path d="M290.5 31.7L290.5 39.5" stroke="#2a2a2a" stroke-width="1" fill="none"/><path d="M360.5 31.7L360.5 39.5" stroke="#2a2a2a" stroke-width="1" fill="none"/><path d="M430.5 31.7L430.5 39.5" stroke="#2a2a2a" stroke-width="1" fill="none"/><path d="M500.5 31.7L500.5 39.5" stroke="#2a2a2a" stroke-width="1" fill="none"/><path d="M570.5 31.7L570.5 39.5" stroke="#2a2a2a" stroke-width="1" fill="none"/><path d="M640.5 31.7L640.5 39.5" stroke="#2a2a2a" stroke-width="1" fill="none"/><path d="M238.5 666.6L238.5 674.9" stroke="#2a2a2a" stroke-width="1" fill="none"/><path d="M325.5 666.6L325.5 674.9" stroke="#2a2a2a" stroke-width="1" fill="none"/><path d="M413.5 666.6L413.5 674.9" stroke="#d8d8d8" stroke-width="1" fill="none"/><path d="M500.5 666.6L500.5 674.9" stroke="#2a2a2a" stroke-width="1" fill="none"/><path d="M588.5 666.6L588.5 674.9" stroke="#d8d8d8" stroke-width="1" fill="none"/><path d="M675.5 666.6L675.5 674.9" stroke="#2a2a2a" stroke-width="1" fill="none"/><path d="M143.0 109.5L151.4 109.5" stroke="#2a2a2a" stroke-width="1" fill="none"/><path d="M143.0 248.5L151.4 248.5" stroke="#2a2a2a" stroke-width="1" fill="none"/><path d="M143.0 457.5L151.4 457.5" stroke="#2a2a2a" stroke-width="1" fill="none"/><path d="M671.6 109.5L680.0 109.5" stroke="#2a2a2a" stroke-width="1" fill="none"/><path d="M671.6 248.5L680.0 248.5" stroke="#2a2a2a" stroke-width="1" fill="none"/><path d="M671.6 457.5L680.0 457.5" stroke="#2a2a2a" stroke-width="1" fill="none"/><path d="M671.6 318.5L680.0 318.5" stroke="#ececec" stroke-width="1" fill="none"/><path d="M671.6 527.5L680.0 527.5" stroke="#ececec" stroke-width="1" fill="none"/></g>
<text x="150.8" y="714.2" font-size="44" text-anchor="middle">0</text>
<text x="238.2" y="714.2" font-size="44" text-anchor="middle">25</text>
<text x="325.7" y="714.2" font-size="44" text-anchor="middle">50</text>
<text x="413.1" y="714.2" font-size="44" text-anchor="middle">75</text>
<text x="500.6" y="714.2" font-size="44" text-anchor="middle">100</text>
<text x="588.0" y="714.2" font-size="44" text-anchor="middle">125</text>
<text x="675.4" y="714.2" font-size="44" text-anchor="middle">150</text>
<g shape-rendering="crispEdges"><path d="M738.5 31.0L738.5 676.7" stroke="#2a2a2a" stroke-width="1" fill="none"/><path d="M1261.5 38.5L1261.5 668.4" stroke="#2a2a2a" stroke-width="1" fill="none"/><path d="M730.7 38.5L1269.5 38.5" stroke="#2a2a2a" stroke-width="1" fill="none"/><path d="M730.7 668.5L1269.5 668.5" stroke="#2a2a2a" stroke-width="1" fill="none"/><path d="M808.5 30.7L808.5 38.5" stroke="#2a2a2a" stroke-width="1" fill="none"/><path d="M878.5 30.7L878.5 38.5" stroke="#2a2a2a" stroke-width="1" fill="none"/><path d="M948.5 30.7L948.5 38.5" stroke="#2a2a2a" stroke-width="1" fill="none"/><path d="M1018.5 30.7L1018.5 38.5" stroke="#2a2a2a" stroke-width="1" fill="none"/><path d="M1088.5 30.7L1088.5 38.5" stroke="#2a2a2a" stroke-width="1" fill="none"/><path d="M1159.5 30.7L1159.5 38.5" stroke="#2a2a2a" stroke-width="1" fill="none"/><path d="M1229.5 30.7L1229.5 38.5" stroke="#2a2a2a" stroke-width="1" fill="none"/><path d="M826.5 668.4L826.5 676.7" stroke="#2a2a2a" stroke-width="1" fill="none"/><path d="M914.5 668.4L914.5 676.7" stroke="#2a2a2a" stroke-width="1" fill="none"/><path d="M1001.5 668.4L1001.5 676.7" stroke="#2a2a2a" stroke-width="1" fill="none"/><path d="M1089.5 668.4L1089.5 676.7" stroke="#2a2a2a" stroke-width="1" fill="none"/><path d="M1176.5 668.4L1176.5 676.7" stroke="#2a2a2a" stroke-width="1" fill="none"/><path d="M1264.5 668.4L1264.5 676.7" stroke="#2a2a2a" stroke-width="1" fill="none"/><path d="M730.7 598.5L738.6 598.5" stroke="#2a2a2a" stroke-width="1" fill="none"/><path d="M730.7 528.5L738.6 528.5" stroke="#2a2a2a" stroke-width="1" fill="none"/><path d="M730.7 458.5L738.6 458.5" stroke="#2a2a2a" stroke-width="1" fill="none"/><path d="M730.7 388.5L738.6 388.5" stroke="#2a2a2a" stroke-width="1" fill="none"/><path d="M730.7 318.5L738.6 318.5" stroke="#2a2a2a" stroke-width="1" fill="none"/><path d="M730.7 248.5L738.6 248.5" stroke="#2a2a2a" stroke-width="1" fill="none"/><path d="M730.7 178.5L738.6 178.5" stroke="#2a2a2a" stroke-width="1" fill="none"/><path d="M730.7 108.5L738.6 108.5" stroke="#2a2a2a" stroke-width="1" fill="none"/><path d="M1261.3 598.5L1269.5 598.5" stroke="#2a2a2a" stroke-width="1" fill="none"/><path d="M1261.3 528.5L1269.5 528.5" stroke="#2a2a2a" stroke-width="1" fill="none"/><path d="M1261.3 458.5L1269.5 458.5" stroke="#2a2a2a" stroke-width="1" fill="none"/><path d="M1261.3 388.5L1269.5 388.5" stroke="#2a2a2a" stroke-width="1" fill="none"/><path d="M1261.3 318.5L1269.5 318.5" stroke="#2a2a2a" stroke-width="1" fill="none"/><path d="M1261.3 248.5L1269.5 248.5" stroke="#2a2a2a" stroke-width="1" fill="none"/><path d="M1261.3 178.5L1269.5 178.5" stroke="#2a2a2a" stroke-width="1" fill="none"/><path d="M1261.3 108.5L1269.5 108.5" stroke="#2a2a2a" stroke-width="1" fill="none"/></g>
<text x="739.0" y="714.2" font-size="44" text-anchor="middle">0</text>
<text x="826.6" y="714.2" font-size="44" text-anchor="middle">25</text>
<text x="914.1" y="714.2" font-size="44" text-anchor="middle">50</text>
<text x="1001.7" y="714.2" font-size="44" text-anchor="middle">75</text>
<text x="1089.3" y="714.2" font-size="44" text-anchor="middle">100</text>
<text x="1176.9" y="714.2" font-size="44" text-anchor="middle">125</text>
<text x="1264.5" y="714.2" font-size="44" text-anchor="middle">150</text>
<g shape-rendering="crispEdges"><path d="M1325.5 31.9L1325.5 675.3" stroke="#8c8c8c" stroke-width="1" fill="none"/><path d="M1846.5 39.4L1846.5 667.0" stroke="#ececec" stroke-width="1" fill="none"/><path d="M1317.7 39.5L1854.8 39.5" stroke="#2a2a2a" stroke-width="1" fill="none"/><path d="M1395.5 31.6L1395.5 39.4" stroke="#d8d8d8" stroke-width="1" fill="none"/><path d="M1465.5 31.6L1465.5 39.4" stroke="#2a2a2a" stroke-width="1" fill="none"/><path d="M1535.5 31.6L1535.5 39.4" stroke="#2a2a2a" stroke-width="1" fill="none"/><path d="M1605.5 31.6L1605.5 39.4" stroke="#2a2a2a" stroke-width="1" fill="none"/><path d="M1675.5 31.6L1675.5 39.4" stroke="#2a2a2a" stroke-width="1" fill="none"/><path d="M1745.5 31.6L1745.5 39.4" stroke="#2a2a2a" stroke-width="1" fill="none"/><path d="M1815.5 31.6L1815.5 39.4" stroke="#2a2a2a" stroke-width="1" fill="none"/><path d="M1413.5 667.0L1413.5 675.3" stroke="#2a2a2a" stroke-width="1" fill="none"/><path d="M1500.5 667.0L1500.5 675.3" stroke="#2a2a2a" stroke-width="1" fill="none"/><path d="M1588.5 667.0L1588.5 675.3" stroke="#d8d8d8" stroke-width="1" fill="none"/><path d="M1675.5 667.0L1675.5 675.3" stroke="#2a2a2a" stroke-width="1" fill="none"/><path d="M1763.5 667.0L1763.5 675.3" stroke="#d8d8d8" stroke-width="1" fill="none"/><path d="M1850.5 667.0L1850.5 675.3" stroke="#2a2a2a" stroke-width="1" fill="none"/><path d="M1317.7 109.5L1325.6 109.5" stroke="#2a2a2a" stroke-width="1" fill="none"/><path d="M1317.7 248.5L1325.6 248.5" stroke="#2a2a2a" stroke-width="1" fill="none"/><path d="M1317.7 318.5L1325.6 318.5" stroke="#2a2a2a" stroke-width="1" fill="none"/><path d="M1317.7 527.5L1325.6 527.5" stroke="#2a2a2a" stroke-width="1" fill="none"/><path d="M1846.8 109.5L1854.8 109.5" stroke="#2a2a2a" stroke-width="1" fill="none"/><path d="M1846.8 248.5L1854.8 248.5" stroke="#2a2a2a" stroke-width="1" fill="none"/><path d="M1846.8 318.5L1854.8 318.5" stroke="#2a2a2a" stroke-width="1" fill="none"/><path d="M1846.8 527.5L1854.8 527.5" stroke="#2a2a2a" stroke-width="1" fill="none"/></g>
<text x="1326.0" y="714.2" font-size="44" text-anchor="middle">0</text>
<text x="1413.4" y="714.2" font-size="44" text-anchor="middle">25</text>
<text x="1500.8" y="714.2" font-size="44" text-anchor="middle">50</text>
<text x="1588.3" y="714.2" font-size="44" text-anchor="middle">75</text>
<text x="1675.7" y="714.2" font-size="44" text-anchor="middle">100</text>
<text x="1763.1" y="714.2" font-size="44" text-anchor="middle">125</text>
<text x="1850.5" y="714.2" font-size="44" text-anchor="middle">150</text>
<text x="141.3" y="681.2" font-size="44" text-anchor="end">0</text>
<text x="141.3" y="611.5" font-size="44" text-anchor="end">20</text>
<text x="141.3" y="541.8" font-size="44" text-anchor="end">40</text>
<text x="141.3" y="472.2" font-size="44" text-anchor="end">60</text>
<text x="141.3" y="402.5" font-size="44" text-anchor="end">80</text>
<text x="141.3" y="332.8" font-size="44" text-anchor="end">100</text>
<text x="141.3" y="263.1" font-size="44" text-anchor="end">120</text>
<text x="141.3" y="193.5" font-size="44" text-anchor="end">140</text>
<text x="141.3" y="123.8" font-size="44" text-anchor="end">160</text>
<text x="141.3" y="54.1" font-size="44" text-anchor="end">180</text>
<text transform="translate(46,352) rotate(-90)" font-size="44" text-anchor="middle">Height (100 m)</text>
<text x="415.4" y="774.6" font-size="44" text-anchor="middle">Range (km)</text>
<text x="1019.6" y="777.3" font-size="44" text-anchor="middle">Range (km)</text>
<text x="1588.6" y="775.3" font-size="44" text-anchor="middle">Range (km)</text>
<text x="182.6" y="93.5" font-size="44">(a)</text>
<text x="770" y="93.5" font-size="44">(b)</text>
<text x="1360.5" y="93.5" font-size="44">(c)</text>
<ellipse cx="573.7" cy="594.6" rx="64.5" ry="60.3" fill="none" stroke="#f00" stroke-width="3.9"/>
<ellipse cx="1167.3" cy="596.7" rx="64.6" ry="59.8" fill="none" stroke="#f00" stroke-width="3.9"/>
<ellipse cx="1760.7" cy="596.7" rx="64.4" ry="59.8" fill="none" stroke="#f00" stroke-width="3.9"/>
<g shape-rendering="crispEdges"><rect x="1889.3" y="39.8" width="70.8" height="37.3" fill="#C8649B"/><rect x="1889.3" y="76.8" width="70.8" height="43.6" fill="#9600B4"/><rect x="1889.3" y="120.1" width="70.8" height="42.1" fill="#FFAAAA"/><rect x="1889.3" y="161.9" width="70.8" height="42.8" fill="#FF6464"/><rect x="1889.3" y="204.4" width="70.8" height="42.9" fill="#FF0000"/><rect x="1889.3" y="247.0" width="70.8" height="42.5" fill="#FFFF00"/><rect x="1889.3" y="289.2" width="70.8" height="42.5" fill="#FFC800"/><rect x="1889.3" y="331.4" width="70.8" height="42.9" fill="#C3A00A"/><rect x="1889.3" y="374.0" width="70.8" height="43.3" fill="#B4FFB4"/><rect x="1889.3" y="417.0" width="70.8" height="42.5" fill="#00D800"/><rect x="1889.3" y="459.2" width="70.8" height="42.5" fill="#0A9632"/><rect x="1889.3" y="501.4" width="70.8" height="42.9" fill="#50B4FF"/><rect x="1889.3" y="544.0" width="70.8" height="42.4" fill="#00B4FF"/><rect x="1889.3" y="586.1" width="70.8" height="43.0" fill="#0090FA"/><rect x="1889.3" y="628.8" width="70.8" height="37.0" fill="#0064F0"/></g>
<text x="1970.3" y="91.1" font-size="34">70</text>
<text x="1970.3" y="135.0" font-size="34">65</text>
<text x="1970.3" y="178.4" font-size="34">60</text>
<text x="1970.3" y="219.9" font-size="34">55</text>
<text x="1970.3" y="262.7" font-size="34">50</text>
<text x="1970.3" y="304.3" font-size="34">45</text>
<text x="1970.3" y="345.3" font-size="34">40</text>
<text x="1970.3" y="387.8" font-size="34">35</text>
<text x="1970.3" y="429.6" font-size="34">30</text>
<text x="1970.3" y="472.3" font-size="34">25</text>
<text x="1970.3" y="514.2" font-size="34">20</text>
<text x="1970.3" y="557.5" font-size="34">15</text>
<text x="1970.3" y="599.6" font-size="34">10</text>
<text x="1970.3" y="642.4" font-size="34">5</text>
<text x="1970.3" y="676.6" font-size="34">0</text>
<text x="1891.6" y="35.2" font-size="28.6" letter-spacing="0.5">ZH(dBZ)</text>
</svg></body></html>
